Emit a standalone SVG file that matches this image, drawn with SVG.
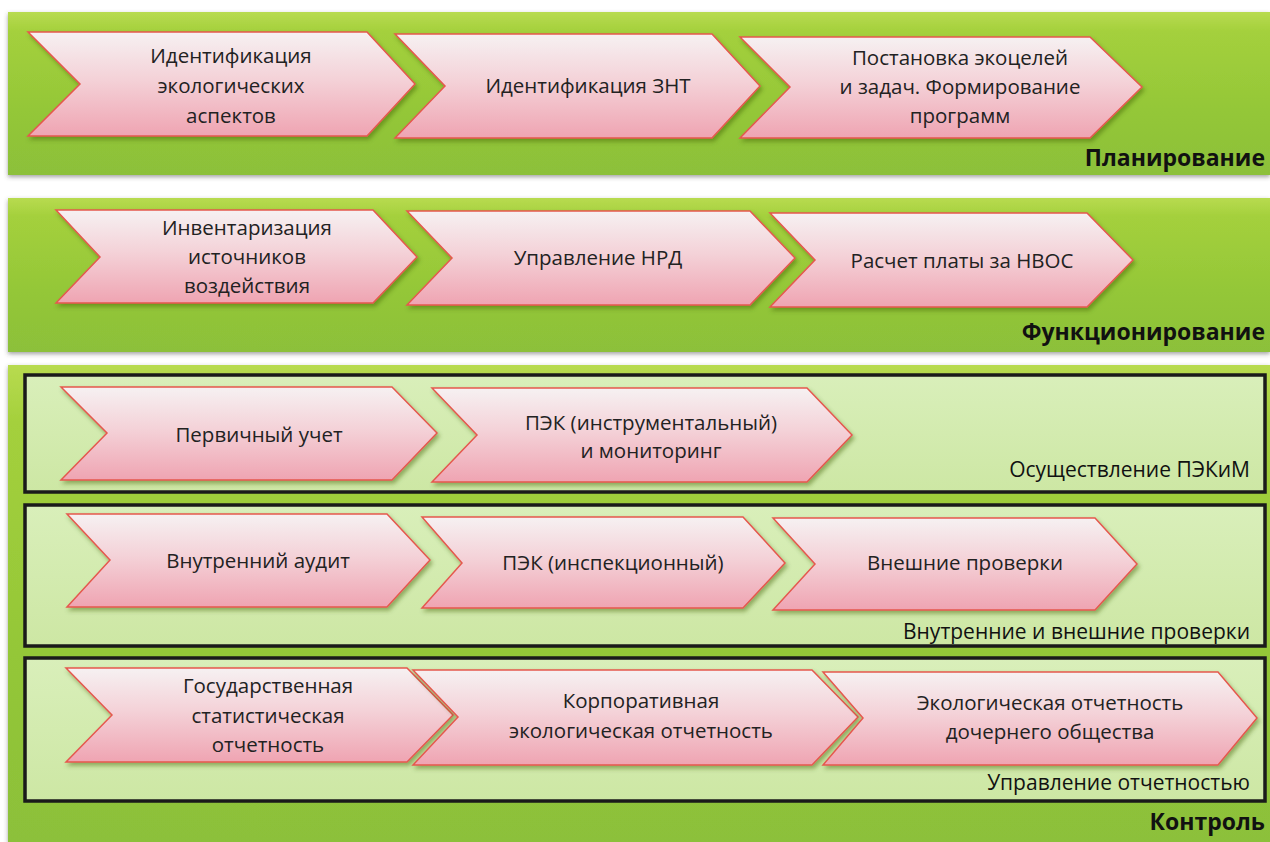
<svg xmlns="http://www.w3.org/2000/svg" width="1270" height="842" viewBox="0 0 1270 842">
<defs>
<linearGradient id="band" x1="0" y1="0" x2="0" y2="1">
<stop offset="0" stop-color="#b8db50"/>
<stop offset="0.12" stop-color="#a4d03c"/>
<stop offset="0.6" stop-color="#94c738"/>
<stop offset="1" stop-color="#8cc03a"/>
</linearGradient>
<linearGradient id="inner" x1="0" y1="0" x2="0" y2="1">
<stop offset="0" stop-color="#d9efba"/>
<stop offset="1" stop-color="#cde7a4"/>
</linearGradient>
<linearGradient id="chev" x1="0" y1="0" x2="0" y2="1">
<stop offset="0" stop-color="#f6f1f2"/>
<stop offset="0.45" stop-color="#f4d2d8"/>
<stop offset="1" stop-color="#efa4b2"/>
</linearGradient>
<filter id="sh" x="-5%" y="-10%" width="110%" height="130%">
<feDropShadow dx="2" dy="3" stdDeviation="2" flood-color="#3a5a10" flood-opacity="0.45"/>
</filter>
<filter id="bsh" x="-2%" y="-5%" width="104%" height="115%">
<feDropShadow dx="0" dy="2" stdDeviation="2" flood-color="#444" flood-opacity="0.5"/>
</filter>
</defs>
<style>
.band{fill:url(#band);filter:url(#bsh)}
.inner{fill:url(#inner);stroke:#1a1a1a;stroke-width:3.5}
.chev{fill:url(#chev);stroke:#e5584e;stroke-width:1.5;filter:url(#sh)}
.t{font-family:"Open Sans","Liberation Sans",sans-serif;font-size:20.5px;fill:#222;text-anchor:middle}
.lbl{font-family:"Open Sans","Liberation Sans",sans-serif;font-size:21px;fill:#111;text-anchor:end}
.h{font-family:"Open Sans","Liberation Sans",sans-serif;font-size:23px;font-weight:bold;fill:#111;text-anchor:end}
</style>
<rect width="1270" height="842" fill="#ffffff"/>

<g id="band-planning">
<rect class="band" x="8" y="12" width="1262" height="163"/>
<text class="h" x="1265" y="166">Планирование</text>
</g>
<g id="band-functioning">
<rect class="band" x="8" y="198" width="1262" height="154"/>
<text class="h" x="1265" y="340">Функционирование</text>
</g>
<g id="band-control">
<rect class="band" x="8" y="365" width="1262" height="477"/>
<text class="h" x="1265" y="830">Контроль</text>
</g>
<g id="box-pekim">
<rect class="inner" x="25" y="375" width="1240" height="117"/>
<text class="lbl" x="1250" y="477">Осуществление ПЭКиМ</text>
</g>
<g id="box-checks">
<rect class="inner" x="25" y="505" width="1240" height="141"/>
<text class="lbl" x="1250" y="639">Внутренние и внешние проверки</text>
</g>
<g id="box-reporting">
<rect class="inner" x="25" y="658" width="1240" height="143"/>
<text class="lbl" x="1250" y="790">Управление отчетностью</text>
</g>

<g id="connectors"></g>

<g id="n-eco-aspects">
<polygon class="chev" points="28,32 367,32 415,84 367,136 28,136 80,84"/>
<text class="t" x="231" y="63">Идентификация</text>
<text class="t" x="231" y="93">экологических</text>
<text class="t" x="231" y="123">аспектов</text>
</g>
<g id="n-znt">
<polygon class="chev" points="395,34 712,34 760,86 712,138 395,138 445,86"/>
<text class="t" x="588" y="93">Идентификация ЗНТ</text>
</g>
<g id="n-goals">
<polygon class="chev" points="740,37 1090,37 1142,87 1090,138 740,138 790,87"/>
<text class="t" x="960" y="65">Постановка экоцелей</text>
<text class="t" x="960" y="94">и задач. Формирование</text>
<text class="t" x="960" y="123">программ</text>
</g>

<g id="n-inventory">
<polygon class="chev" points="56,210 373,210 417,257 373,303 56,303 100,257"/>
<text class="t" x="247" y="235">Инвентаризация</text>
<text class="t" x="247" y="264">источников</text>
<text class="t" x="247" y="293">воздействия</text>
</g>
<g id="n-nrd">
<polygon class="chev" points="407,211 750,211 795,258 750,305 407,305 452,258"/>
<text class="t" x="598" y="265">Управление НРД</text>
</g>
<g id="n-nvos">
<polygon class="chev" points="770,213 1087,213 1133,260 1087,307 770,307 815,260"/>
<text class="t" x="962" y="268">Расчет платы за НВОС</text>
</g>

<g id="n-primary">
<polygon class="chev" points="61,387 392,387 437,433 392,480 61,480 107,433"/>
<text class="t" x="259" y="442">Первичный учет</text>
</g>
<g id="n-pek-instr">
<polygon class="chev" points="432,388 807,388 852,435 807,482 432,482 477,435"/>
<text class="t" x="651" y="430">ПЭК (инструментальный)</text>
<text class="t" x="651" y="458">и мониторинг</text>
</g>

<g id="n-audit">
<polygon class="chev" points="67,514 387,514 430,560 387,607 67,607 110,560"/>
<text class="t" x="258" y="568">Внутренний аудит</text>
</g>
<g id="n-pek-insp">
<polygon class="chev" points="422,517 743,517 785,563 743,608 422,608 462,563"/>
<text class="t" x="613" y="570">ПЭК (инспекционный)</text>
</g>
<g id="n-external">
<polygon class="chev" points="773,518 1095,518 1137,564 1095,610 773,610 815,564"/>
<text class="t" x="965" y="570">Внешние проверки</text>
</g>

<g id="n-state-stat">
<polygon class="chev" points="66,668 407,668 453,715 407,762 66,762 112,715"/>
<text class="t" x="268" y="693">Государственная</text>
<text class="t" x="268" y="723">статистическая</text>
<text class="t" x="268" y="752">отчетность</text>
</g>
<g id="n-corp">
<polygon class="chev" points="413,670 812,670 858,717 812,765 413,765 458,717"/>
<text class="t" x="641" y="708">Корпоративная</text>
<text class="t" x="641" y="738">экологическая отчетность</text>
</g>
<g id="n-subsidiary">
<polygon class="chev" points="823,672 1218,672 1257,718 1218,765 823,765 863,718"/>
<text class="t" x="1050" y="710">Экологическая отчетность</text>
<text class="t" x="1050" y="739">дочернего общества</text>
</g>
</svg>
